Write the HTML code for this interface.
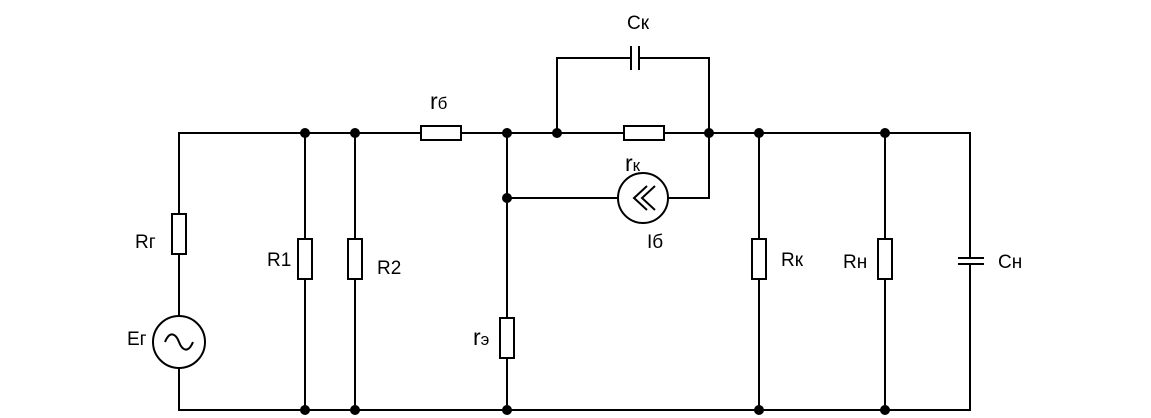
<!DOCTYPE html>
<html><head><meta charset="utf-8"><style>
html,body{margin:0;padding:0;background:#fff;}
svg{display:block;}
text{font-family:"Liberation Sans",sans-serif;font-size:19px;fill:#000;}
.b{font-size:23px;}
.s{font-size:17px;}
</style></head><body>
<svg width="1151" height="418" viewBox="0 0 1151 418" xmlns="http://www.w3.org/2000/svg">
<g stroke="#000" stroke-width="2" fill="none">
<path d="M179 214 V133 H421 M461 133 H624 M664 133 H970 V258 M970 264 V410 H179 V368"/>
<path d="M179 254 V316"/>
<rect x="172" y="214" width="14" height="40" fill="#fff"/>
<circle cx="179" cy="342" r="26" fill="#fff"/>
<path d="M165 342 C170 330 176 334 179 342 C182 350 188 354 193 342"/>
<path d="M305 133 V239 M305 279 V410 M355 133 V239 M355 279 V410"/>
<rect x="298" y="239" width="14" height="40"/>
<rect x="348" y="239" width="14" height="40"/>
<rect x="421" y="126" width="40" height="14"/>
<path d="M507 133 V318 M507 358 V410"/>
<rect x="500" y="318" width="14" height="40"/>
<rect x="624" y="126" width="40" height="14"/>
<path d="M557 133 V58 H631 M639 58 H709 V198 H668 M617 198 H507"/>
<path d="M631 46 V70 M639 46 V70"/>
<circle cx="643" cy="198" r="25"/>
<path d="M647 186 L634 198 L647 210 M655 186 L642 198 L655 210"/>
<path d="M759 133 V239 M759 279 V410 M885 133 V239 M885 279 V410"/>
<rect x="752" y="239" width="14" height="40"/>
<rect x="878" y="239" width="14" height="40"/>
<path d="M958 258 H984 M958 264 H984"/>
</g>
<g fill="#000">
<circle cx="305" cy="133" r="5"/><circle cx="355" cy="133" r="5"/>
<circle cx="507" cy="133" r="5"/><circle cx="557" cy="133" r="5"/>
<circle cx="709" cy="133" r="5"/><circle cx="759" cy="133" r="5"/>
<circle cx="885" cy="133" r="5"/><circle cx="507" cy="198" r="5"/>
<circle cx="305" cy="410" r="5"/><circle cx="355" cy="410" r="5"/>
<circle cx="507" cy="410" r="5"/><circle cx="759" cy="410" r="5"/>
<circle cx="885" cy="410" r="5"/>
</g>
<text x="627" y="29">Cк</text>
<text x="430" y="109" class="b">r<tspan class="s">б</tspan></text>
<text x="625" y="171" class="b">r<tspan class="s">к</tspan></text>
<text x="647" y="248">Iб</text>
<text x="135" y="248">Rг</text>
<text x="127" y="345">Eг</text>
<text x="267" y="266">R1</text>
<text x="377" y="274">R2</text>
<text x="473" y="345" class="b">r<tspan class="s">э</tspan></text>
<text x="781" y="266">Rк</text>
<text x="843" y="268">Rн</text>
<text x="998" y="268">Cн</text>
</svg>
</body></html>
